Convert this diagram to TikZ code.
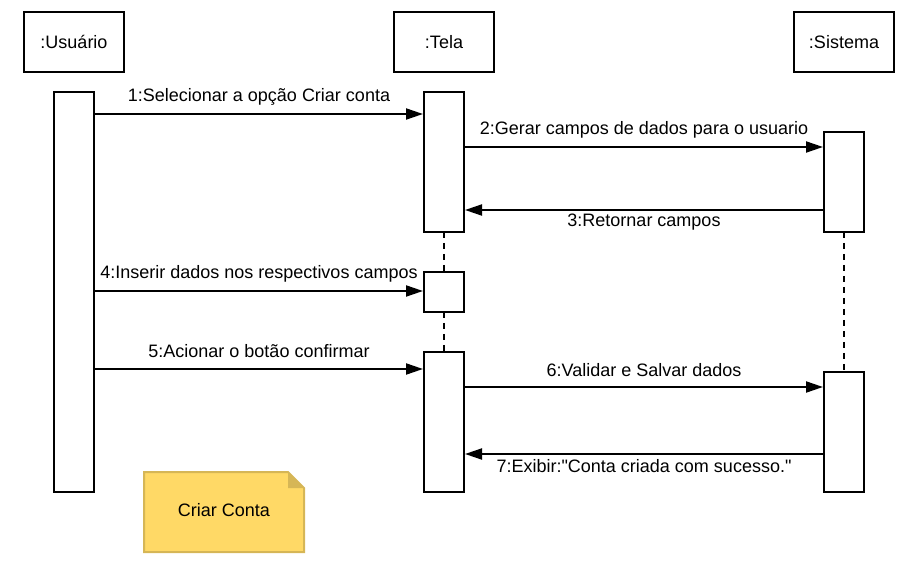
\documentclass[tikz,border=0pt]{standalone}
\usepackage{fontspec}
\setmainfont{Liberation Sans}[Ligatures=TeXOff]
\usetikzlibrary{arrows.meta}
\definecolor{notefill}{HTML}{FFD966}
\definecolor{noteline}{HTML}{D6B656}
\begin{document}
\begin{tikzpicture}[x=1pt,y=-1pt,
  every node/.style={font=\fontsize{18}{21}\selectfont},
  objbox/.style={draw,line width=2pt,minimum width=100pt,minimum height=60pt,inner sep=0pt},
  actbox/.style={draw,line width=2pt,fill=white,minimum width=40pt,inner sep=0pt},
  msg/.style={line width=2pt,-{Triangle[length=17pt,width=11pt]}},
  lifeline/.style={line width=2pt,dash pattern=on 6pt off 5pt},
  lbl/.style={inner sep=0pt}]
\useasboundingbox (0,0) rectangle (914,564);
% objects
\node[objbox] (ou) at (74,42) {:Usuário};
\node[objbox] (ot) at (444,42) {:Tela};
\node[objbox] (os) at (844,42) {:Sistema};
% lifelines (dashed)
\coordinate (tl1a) at (444,232); \coordinate (tl1b) at (444,272);
\coordinate (tl2a) at (444,312); \coordinate (tl2b) at (444,352);
\coordinate (sla) at (844,232); \coordinate (slb) at (844,372);
\draw[lifeline] (tl1a) -- (tl1b);
\draw[lifeline] (tl2a) -- (tl2b);
\draw[lifeline] (sla) -- (slb);
% activations
\node[actbox,minimum height=400pt] (ua) at (74,292) {};
\node[actbox,minimum height=140pt] (t1) at (444,162) {};
\node[actbox,minimum height=40pt] (t2) at (444,292) {};
\node[actbox,minimum height=140pt] (t3) at (444,422) {};
\node[actbox,minimum height=100pt] (s1) at (844,182) {};
\node[actbox,minimum height=120pt] (s2) at (844,432) {};
% message rows
\coordinate (y1) at (0,114);
\coordinate (y2) at (0,147);
\coordinate (y3) at (0,210);
\coordinate (y4) at (0,291);
\coordinate (y5) at (0,369);
\coordinate (y6) at (0,387);
\coordinate (y7) at (0,454);
\draw[msg] (ua.east |- y1) -- (t1.west |- y1);
\draw[msg] (t1.east |- y2) -- (s1.west |- y2);
\draw[msg] (s1.west |- y3) -- (t1.east |- y3);
\draw[msg] (ua.east |- y4) -- (t2.west |- y4);
\draw[msg] (ua.east |- y5) -- (t3.west |- y5);
\draw[msg] (t3.east |- y6) -- (s2.west |- y6);
\draw[msg] (s2.west |- y7) -- (t3.east |- y7);
% labels
\node[lbl] (l1) at (259,97) {1:Selecionar a opção Criar conta};
\node[lbl] (l2) at (644,130) {2:Gerar campos de dados para o usuario};
\node[lbl] (l3) at (644,222) {3:Retornar campos};
\node[lbl] (l4) at (259,274) {4:Inserir dados nos respectivos campos};
\node[lbl] (l5) at (259,351) {5:Acionar o botão confirmar};
\node[lbl] (l6) at (644,370) {6:Validar e Salvar dados};
\node[lbl] (l7) at (644,466) {7:Exibir:"Conta criada com sucesso."};
% note
\draw[line width=2pt,draw=noteline,fill=notefill,line join=miter]
  (144,472) -- (288,472) -- (304,488) -- (304,552) -- (144,552) -- cycle;
\fill[noteline] (288,472) -- (288,488) -- (304,488) -- cycle;
\node (note) at (224,510) {Criar Conta};
\end{tikzpicture}
\end{document}
